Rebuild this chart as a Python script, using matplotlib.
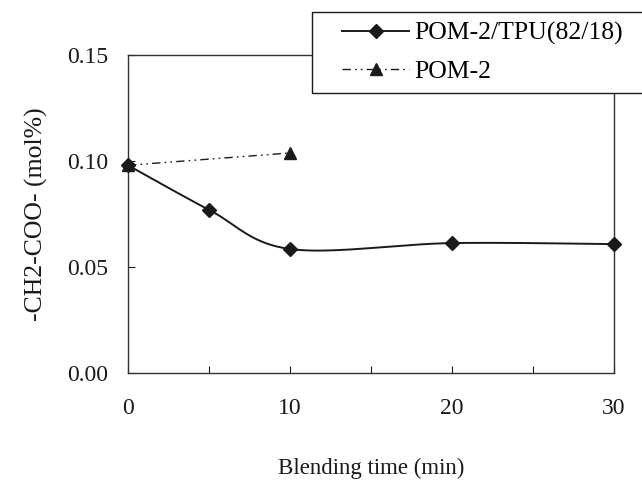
import numpy as np
import matplotlib
matplotlib.use("Agg")
import matplotlib.pyplot as plt
from matplotlib.lines import Line2D
from matplotlib.legend_handler import HandlerLine2D

plt.rcParams['font.family'] = ['Liberation Serif', 'DejaVu Serif']

# data
blend_time = [0, 5, 10, 20, 30]
pom_tpu = [0.098, 0.077, 0.0585, 0.0613, 0.0608]
pom2_time = [0, 10]
pom2 = [0.098, 0.1038]
xticks = [0, 10, 20, 30]
yticks = [0.00, 0.05, 0.10, 0.15]
label_tpu = "POM-2/TPU(82/18)"
label_pom = "POM-2"
xlabel = "Blending time (min)"
ylabel = "-CH2-COO- (mol%)"

fig = plt.figure(figsize=(6.42, 4.84), dpi=100)
ax = fig.add_axes([0.1994, 0.2293, 0.757, 0.657])
ax.set_xlim(0, 30)
ax.set_ylim(0, 0.15)

def smooth(xs, ys, sx, sy, n=40):
    # Catmull-Rom style smoothing in screen-like units
    P = np.column_stack([np.array(xs) * sx, np.array(ys) * sy])
    out = []
    for i in range(len(P) - 1):
        p0 = P[i - 1] if i > 0 else P[i]
        p1 = P[i]
        p2 = P[i + 1]
        p3 = P[i + 2] if i + 2 < len(P) else P[i + 1]
        c1 = p1 + (p2 - p0) / 6.0
        c2 = p2 - (p3 - p1) / 6.0
        t = np.linspace(0, 1, n)[:, None]
        seg = ((1 - t) ** 3) * p1 + 3 * ((1 - t) ** 2) * t * c1 + 3 * (1 - t) * t ** 2 * c2 + t ** 3 * p2
        out.append(seg if i == 0 else seg[1:])
    S = np.vstack(out)
    return S[:, 0] / sx, S[:, 1] / sy

sx = 486 / 30.0
sy = 318 / 0.15
cx, cy = smooth(blend_time, pom_tpu, sx, sy)
col = '#1a1a1a'
ax.plot(cx, cy, color=col, lw=1.4, zorder=3)
ax.plot(blend_time, pom_tpu, ls='none', marker='D', ms=7.5, color=col, zorder=4, clip_on=False)
dash = (0, (6, 3, 1.2, 3, 1.2, 3))
ax.plot(pom2_time, pom2, color=col, lw=1.0, ls=dash, zorder=3)
ax.plot(pom2_time, pom2, ls='none', marker='^', ms=8, color=col, zorder=4, clip_on=False)

ax.set_xticks(xticks)
ax.set_xticks([5, 15, 25], minor=True)
ax.set_yticks(yticks)
ax.set_yticklabels([f"{v:.2f}" for v in yticks])
ax.tick_params(axis='both', which='both', direction='in', length=5, width=0.8, color=col,
               labelsize=17, labelcolor=col)
ax.tick_params(axis='x', which='both', pad=18)
ax.tick_params(axis='y', pad=14)
for s in ax.spines.values():
    s.set_color('#333333')
    s.set_linewidth(1.0)

ax.set_xlabel(xlabel, fontsize=16.5, color=col, labelpad=28)
ax.set_ylabel(ylabel, fontsize=18.5, color=col, labelpad=14)

handles = [Line2D([], [], color=col, lw=1.4, marker='D', ms=7.5),
           Line2D([], [], color=col, lw=1.0, ls=dash, marker='^', ms=8)]
leg = fig.legend(handles, [label_tpu, label_pom], loc='upper left',
                 bbox_to_anchor=(0.486, 0.814, 0.52, 0.161), mode='expand',
                 fontsize=18.5, frameon=True, fancybox=False, handlelength=3.4,
                 borderpad=0.38, labelspacing=0.57, handletextpad=0.2, borderaxespad=0,
                 handler_map={Line2D: HandlerLine2D(xpad=0.8)})
leg.get_frame().set_edgecolor(col)
leg.get_frame().set_linewidth(1.0)
leg.get_frame().set_alpha(1)

fig.savefig('out.png', dpi=100)
